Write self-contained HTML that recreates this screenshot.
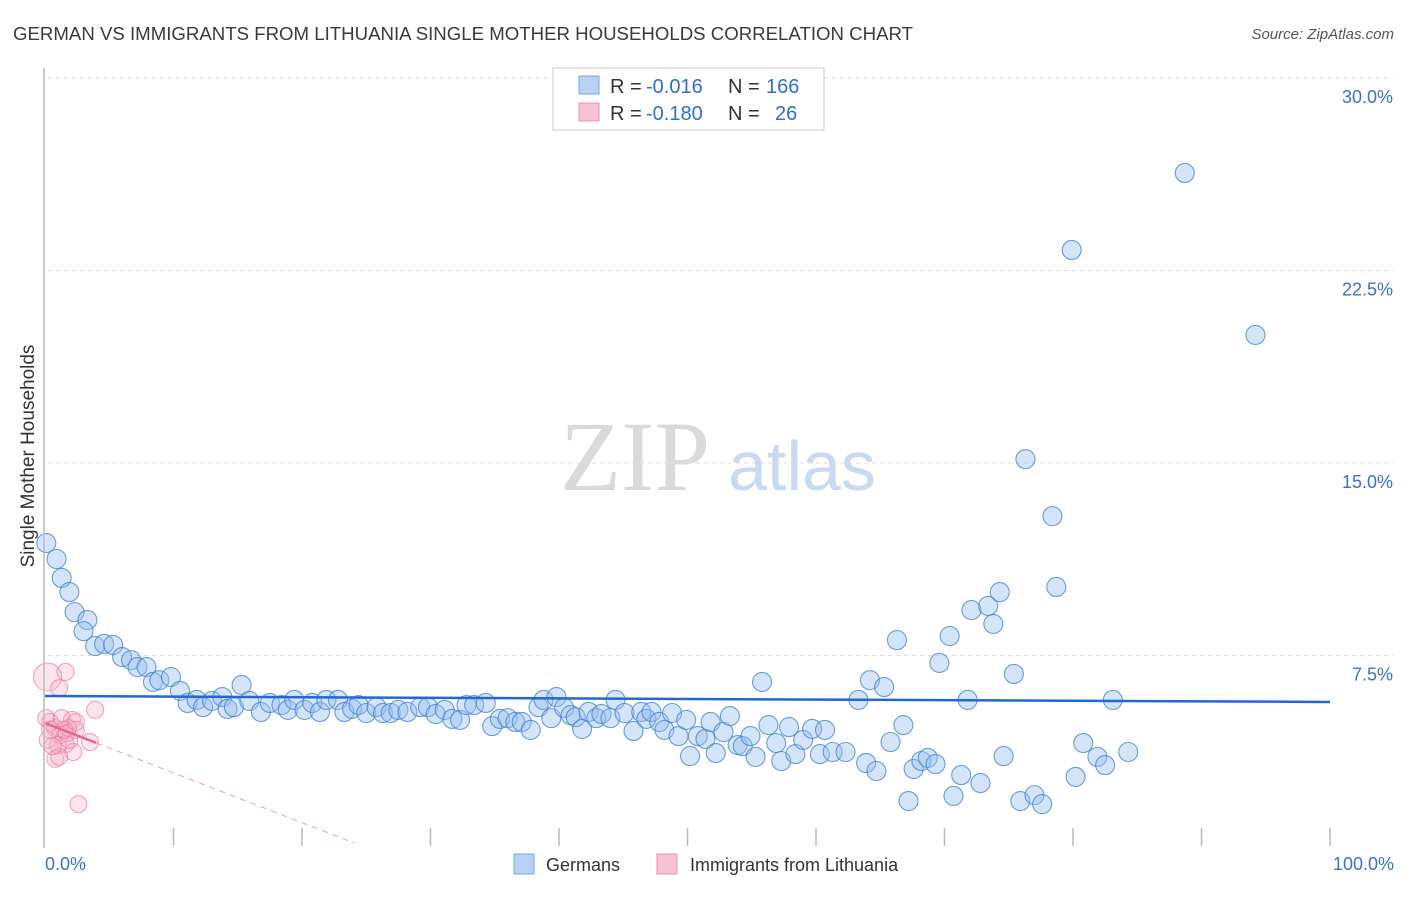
<!DOCTYPE html>
<html><head><meta charset="utf-8"><style>
body{margin:0;background:#fff;font-family:"Liberation Sans",sans-serif;}
svg text{font-family:"Liberation Sans",sans-serif;}
svg text.serif{font-family:"Liberation Serif",serif;}
</style></head><body>
<svg id="chart" width="1406" height="892" xmlns="http://www.w3.org/2000/svg">
<text x="13" y="40" font-size="18" fill="#3a3a3a" textLength="900" lengthAdjust="spacingAndGlyphs">GERMAN VS IMMIGRANTS FROM LITHUANIA SINGLE MOTHER HOUSEHOLDS CORRELATION CHART</text>
<text x="1394" y="39" font-size="15" fill="#555" text-anchor="end" font-style="italic">Source: ZipAtlas.com</text>
<text transform="translate(34,456) rotate(-90)" font-size="19" fill="#333" text-anchor="middle">Single Mother Households</text>
<g>
<text class="serif" x="635" y="490" font-size="100" fill="#dadada" text-anchor="middle">ZIP</text>
<text x="802" y="490" font-size="70" fill="#c8d9f0" text-anchor="middle">atlas</text>
</g>
<g id="grid"></g><g id="ticks"></g><g id="pinkpts"></g><g id="bluepts"></g><g id="lines"></g>
<line x1="44" y1="68" x2="44" y2="848" stroke="#bbb" stroke-width="1.5"/>
<text x="45" y="870" font-size="18" fill="#3a70d0">0.0%</text>
<text x="1394" y="870" font-size="18" fill="#3a70d0" text-anchor="end">100.0%</text>
<g>
<rect x="553" y="68" width="271" height="62" fill="#fff" stroke="#ccc"/>
<rect x="579" y="76" width="20" height="18" fill="#b9d2f3" stroke="#7aa4e0"/>
<rect x="579" y="103" width="20" height="18" fill="#f8c3d2" stroke="#ec8fab"/>
<text x="610" y="93" font-size="20" fill="#333">R =</text>
<text x="646" y="93" font-size="20" fill="#2f6fd0">-0.016</text>
<text x="728" y="93" font-size="20" fill="#333">N =</text>
<text x="766" y="93" font-size="20" fill="#2f6fd0">166</text>
<text x="610" y="120" font-size="20" fill="#333">R =</text>
<text x="646" y="120" font-size="20" fill="#2f6fd0">-0.180</text>
<text x="728" y="120" font-size="20" fill="#333">N =</text>
<text x="775" y="120" font-size="20" fill="#2f6fd0">26</text>
</g>
<g>
<rect x="514" y="854" width="20" height="20" fill="#b9d2f3" stroke="#7aa4e0"/>
<text x="546" y="871" font-size="18" fill="#333">Germans</text>
<rect x="657" y="854" width="20" height="20" fill="#f8c3d2" stroke="#ec8fab"/>
<text x="690" y="871" font-size="18" fill="#333">Immigrants from Lithuania</text>
</g>
</svg>
<script>
const yTicks=[7.5,15,22.5,30];
const yTickLabels=["7.5%","15.0%","22.5%","30.0%"];
const xTicks=[10,20,30,40,50,60,70,80,90,100];
const blueX=[0.1,0.9,1.3,1.9,2.3,3.3,3.0,3.9,4.6,5.3,6.0,6.7,7.2,7.9,8.4,8.9,9.8,10.5,11.1,11.8,12.3,13.0,13.8,14.2,14.7,15.3,15.9,16.8,17.5,18.4,18.9,19.4,20.2,20.8,21.4,21.9,22.8,23.3,23.9,24.4,25.0,25.8,26.3,26.9,27.5,28.2,29.2,29.8,30.4,31.1,31.7,32.3,32.8,33.4,34.3,34.8,35.4,36.0,36.6,37.1,37.8,38.4,38.8,39.4,39.8,40.4,40.9,41.3,41.8,42.3,42.9,43.3,44.0,44.4,45.1,45.8,46.4,46.8,47.2,47.8,48.2,48.8,49.3,49.9,50.2,50.8,51.4,51.8,52.2,52.8,53.3,53.9,54.3,54.9,55.3,55.8,56.3,56.9,57.3,57.9,58.4,59.0,59.7,60.3,60.7,61.3,62.3,63.3,63.9,64.2,64.7,65.3,65.8,66.3,66.8,67.2,67.6,68.2,68.7,69.3,69.6,70.4,70.7,71.3,71.8,72.1,72.8,73.4,73.8,74.3,74.6,75.4,75.9,76.3,77.0,77.6,78.4,78.7,79.9,80.2,80.8,81.9,82.5,83.1,84.3,88.7,94.2];
const blueY=[11.88,11.26,10.52,9.97,9.19,8.88,8.45,7.87,7.95,7.91,7.44,7.32,7.05,7.05,6.47,6.54,6.66,6.12,5.65,5.77,5.49,5.73,5.88,5.42,5.49,6.35,5.73,5.30,5.65,5.57,5.38,5.77,5.38,5.65,5.30,5.77,5.77,5.30,5.42,5.57,5.26,5.49,5.26,5.26,5.38,5.30,5.49,5.49,5.22,5.38,5.03,4.99,5.57,5.57,5.65,4.75,5.03,5.06,4.91,4.91,4.60,5.49,5.77,5.06,5.88,5.46,5.18,5.10,4.64,5.30,5.06,5.22,5.06,5.77,5.26,4.56,5.30,5.03,5.30,4.91,4.60,5.26,4.36,4.99,3.58,4.36,4.25,4.91,3.70,4.52,5.14,4.01,3.97,4.36,3.55,6.47,4.79,4.09,3.39,4.71,3.66,4.21,4.64,3.66,4.60,3.74,3.74,5.77,3.31,6.54,3.00,6.27,4.13,8.10,4.79,1.83,3.08,3.39,3.51,3.27,7.21,8.26,2.03,2.84,5.77,9.27,2.53,9.43,8.73,9.97,3.58,6.78,1.83,15.15,2.06,1.71,12.93,10.17,23.30,2.77,4.09,3.55,3.23,5.77,3.74,26.30,19.99];
const pinkX=[0.2,1.1,1.6,0.1,0.4,0.8,1.2,1.7,2.1,2.4,1.0,1.6,0.8,2.2,1.1,3.9,3.5,2.6,1.8,0.2,1.3,1.9,0.6,1.5,2.4,0.4];
const pinkY=[6.66,6.23,6.86,5.06,4.91,4.67,4.40,4.48,4.99,4.60,4.01,4.05,3.47,3.74,3.55,5.38,4.13,1.71,4.67,4.21,5.06,4.21,3.97,4.60,4.91,4.60];
const blueTrend=[5.92,5.69];
const pinkTrend=[4.87,0.19];
const pinkTrendEnd=24.1, pinkSolidEnd=4;
const NS="http://www.w3.org/2000/svg";
const X=v=>45+v*12.85, Y=v=>848-v*25.667;
function mk(t,a,p){const e=document.createElementNS(NS,t);for(const k in a)e.setAttribute(k,a[k]);p.appendChild(e);return e;}
const grid=document.getElementById('grid');
yTicks.forEach((t,i)=>{
 const l=mk('line',{x1:48,x2:1393,y1:Y(t),y2:Y(t),stroke:'#ddd','stroke-dasharray':'4,4'},grid);
 
 
 const tx=mk('text',{x:1393,y:Y(t)+25,'font-size':18,fill:'#3a70d0','text-anchor':'end'},grid);
 tx.textContent=yTickLabels[i];
 
 
});
const tk=document.getElementById('ticks');
xTicks.forEach(t=>{
 const l=mk('line',{x1:X(t),x2:X(t),y1:828,y2:846,stroke:'#bbb','stroke-width':1.5},tk);
 
 
});
const pp=document.getElementById('pinkpts');
pinkX.forEach((x,i)=>{
 const c=mk('circle',{cx:X(x),cy:Y(pinkY[i]),r:i==0?14:8.5,fill:'rgba(246,170,195,0.3)',stroke:'rgba(236,120,155,0.7)','stroke-width':1},pp);
 
 
});
const bp=document.getElementById('bluepts');
blueX.forEach((x,i)=>{
 const c=mk('circle',{cx:X(x),cy:Y(blueY[i]),r:9.5,fill:'rgba(150,190,240,0.4)',stroke:'rgba(60,125,215,0.75)','stroke-width':1.1},bp);
 
 
});
const ln=document.getElementById('lines');
const b=mk('line',{x1:X(0),y1:Y(blueTrend[0]),x2:X(100),y2:Y(blueTrend[1]),stroke:'#2268d0','stroke-width':2.5},ln);


const py=x=>pinkTrend[0]+(pinkTrend[1]-pinkTrend[0])*x/pinkTrendEnd;
const p1=mk('line',{x1:X(0),y1:Y(py(0)),x2:X(pinkSolidEnd),y2:Y(py(pinkSolidEnd)),stroke:'#e8668e','stroke-width':2.5},ln);


const p2=mk('line',{x1:X(pinkSolidEnd),y1:Y(py(pinkSolidEnd)),x2:X(pinkTrendEnd),y2:Y(py(pinkTrendEnd)),stroke:'#e8a0b6','stroke-width':1,'stroke-dasharray':'6,5'},ln);


</script>
</body></html>
